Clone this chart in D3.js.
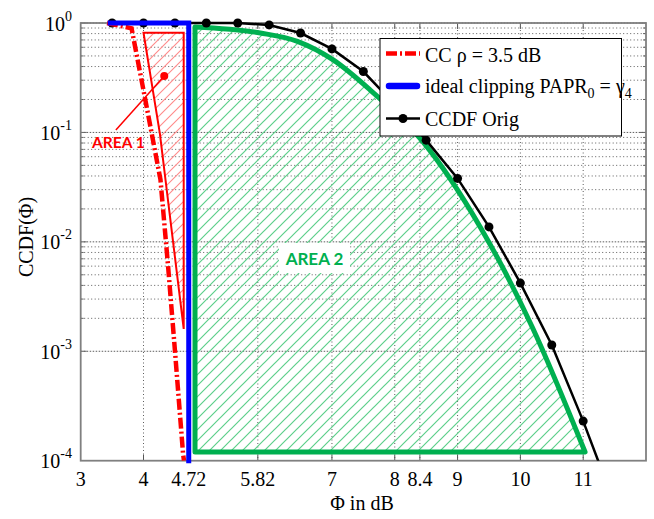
<!DOCTYPE html>
<html>
<head>
<meta charset="utf-8">
<script src="https://cdn.jsdelivr.net/npm/d3@7"></script>
<style>
  body { margin: 0; background: #fff; }
</style>
</head>
<body>
<div id="chart"></div>
<script>

// x ticks (dB) and y decades
var xTicks = [ 3, 4, 4.72, 5.82, 7, 8, 8.4, 9, 10, 11 ];
var yExps = [ 0, -1, -2, -3, -4 ];

// CCDF Orig
var origX = [ 3.5, 4, 4.5, 5, 5.5, 6, 6.5, 7, 7.5, 8, 8.5, 9, 9.5, 10, 10.5, 11, 11.5 ];
var origY = [ 1, 1, 1, 1, 1, 0.96, 0.81, 0.58, 0.36, 0.18, 0.085, 0.038, 0.0137, 0.0042, 0.00114, 0.00023, 0.00004 ];

// CC rho = 3.5 dB
var ccX = [ 3.42, 3.81, 4.03, 4.27, 4.39, 4.50, 4.63, 4.645 ];
var ccY = [ 1, 0.894, 0.197, 0.037, 0.0061, 0.00102, 0.000115, 0.0001 ];

// ideal clipping PAPR0 = gamma4
var clipX = [ 3.47, 4.72, 4.72 ];
var clipY = [ 1, 1, 0.0001 ];

// AREA 1 / AREA 2 outlines
var area1X = [ 4.0, 4.26, 4.64, 4.64 ];
var area1Y = [ 0.815, 0.098, 0.0016, 0.815 ];
var area2X = [ 4.82, 4.82, 5.86, 6.45, 7.02, 7.61, 8.45, 9.36, 10.19, 11.03 ];
var area2Y = [ 0.00012, 0.92, 0.81, 0.68, 0.46, 0.244, 0.082, 0.0137, 0.00166, 0.00012 ];

var width = 654,
    height = 519;

var serif = '"Liberation Serif", "Times New Roman", Times, serif';

var x = d3.scaleLinear().domain([ 3, 12 ]).range([ 80.7, 646 ]);
var y = d3.scaleLog().domain([ 1e-4, 1 ]).range([ 460.7, 23 ]);

var svg = d3.select('#chart').append('svg')
    .attr('width', width)
    .attr('height', height)
    .style('font-family', serif);

var defs = svg.append('defs');

defs.append('clipPath').attr('id', 'plotClip')
    .append('rect')
    .attr('x', x(3)).attr('y', y(1) - 12)
    .attr('width', x(12) - x(3)).attr('height', y(1e-4) - y(1) + 12);

function hatch ( id, color, w ) {

    var p = defs.append('pattern')
        .attr('id', id)
        .attr('patternUnits', 'userSpaceOnUse')
        .attr('width', 11)
        .attr('height', 11);

    p.append('path')
        .attr('d', 'M-1,12 L12,-1 M-3,3 L3,-3 M8,14 L14,8')
        .style('stroke', color)
        .style('stroke-width', w);

}

hatch( 'hatchGreen', '#5ccf8a', 1.2 );
hatch( 'hatchRed', '#ff8a8a', 1.1 );

/* grid */

var grid = svg.append('g');

yExps.forEach( function ( e ) {

    var base = Math.pow( 10, e );
    var mult = e === -4 ? [ 1 ] : [ 1, 2, 3, 4, 5, 6, 7, 8, 9 ];

    mult.forEach( function ( m ) {

        var v = base * m;
        if ( v > 1 || v <= 1e-4 ) return;

        grid.append('line')
            .attr('x1', x(3)).attr('x2', x(12))
            .attr('y1', y(v)).attr('y2', y(v))
            .style('stroke', '#333')
            .style('stroke-width', 0.8)
            .style('stroke-dasharray', m === 1 ? '1.5,1.5' : '1,2.5');

        // small ticks left / right
        grid.append('line')
            .attr('x1', x(3)).attr('x2', x(3) + ( m === 1 ? 6 : 3 ))
            .attr('y1', y(v)).attr('y2', y(v))
            .style('stroke', '#666');
        grid.append('line')
            .attr('x1', x(12)).attr('x2', x(12) - ( m === 1 ? 6 : 3 ))
            .attr('y1', y(v)).attr('y2', y(v))
            .style('stroke', '#666');

    });

});

xTicks.forEach( function ( t ) {

    if ( t === 3 ) return;

    grid.append('line')
        .attr('x1', x(t)).attr('x2', x(t))
        .attr('y1', y(1)).attr('y2', y(1e-4))
        .style('stroke', '#333')
        .style('stroke-width', 0.8)
        .style('stroke-dasharray', '1,2.5');

    grid.append('line')
        .attr('x1', x(t)).attr('x2', x(t))
        .attr('y1', y(1e-4)).attr('y2', y(1e-4) - 6)
        .style('stroke', '#555');
    grid.append('line')
        .attr('x1', x(t)).attr('x2', x(t))
        .attr('y1', y(1)).attr('y2', y(1) + 6)
        .style('stroke', '#555');

});

/* axes box */

svg.append('rect')
    .attr('x', x(3)).attr('y', y(1))
    .attr('width', x(12) - x(3)).attr('height', y(1e-4) - y(1))
    .style('fill', 'none')
    .style('stroke', '#808080')
    .style('stroke-width', 1.8);

/* areas */

var plot = svg.append('g').attr('clip-path', 'url(#plotClip)');

var polyLine = d3.line()
    .x( function ( d ) { return x( d[0] ); } )
    .y( function ( d ) { return y( d[1] ); } );

var area1 = area1X.map( function ( v, i ) { return [ v, area1Y[i] ]; } );
var area2 = area2X.map( function ( v, i ) { return [ v, area2Y[i] ]; } );

plot.append('path')
    .attr('d', polyLine( area1 ) + 'Z')
    .style('fill', 'url(#hatchRed)')
    .style('stroke', '#ff0000')
    .style('stroke-width', 2)
    .style('stroke-linejoin', 'miter');

// upper edge of area 2 smoothed
var upper = area2.slice( 1 );
var smooth = d3.line()
    .x( function ( d ) { return x( d[0] ); } )
    .y( function ( d ) { return y( d[1] ); } )
    .curve( d3.curveMonotoneX );

var upperPath = smooth( upper );
var area2Path = 'M' + x( area2[0][0] ) + ',' + y( area2[0][1] ) + 'L' + upperPath.slice( 1 ) + 'Z';

plot.append('path')
    .attr('d', area2Path)
    .style('fill', 'url(#hatchGreen)')
    .style('stroke', '#00b050')
    .style('stroke-width', 5)
    .style('stroke-linejoin', 'round');

/* curves */

var orig = origX.map( function ( v, i ) { return [ v, origY[i] ]; } );

plot.append('path')
    .attr('d', polyLine( orig ))
    .style('fill', 'none')
    .style('stroke', '#000')
    .style('stroke-width', 2.5);

plot.selectAll('.marker')
    .data( orig )
    .enter().append('circle')
    .attr('class', 'marker')
    .attr('cx', function ( d ) { return x( d[0] ); })
    .attr('cy', function ( d ) { return y( d[1] ); })
    .attr('r', 4.5)
    .style('fill', '#000');

var cc = ccX.map( function ( v, i ) { return [ v, ccY[i] ]; } );

plot.append('path')
    .attr('d', polyLine( cc ))
    .style('fill', 'none')
    .style('stroke', '#ff0000')
    .style('stroke-width', 4.5)
    .style('stroke-dasharray', '11,3,2,3');

var clip = clipX.map( function ( v, i ) { return [ v, clipY[i] ]; } );

svg.append('path')
    .attr('d', polyLine( clip ))
    .style('fill', 'none')
    .style('stroke', '#0000ff')
    .style('stroke-width', 5)
    .style('stroke-linecap', 'square');

/* annotations */

svg.append('line')
    .attr('x1', x(4.33)).attr('y1', y(0.328))
    .attr('x2', x(3.56)).attr('y2', y(0.105))
    .style('stroke', '#ff0000')
    .style('stroke-width', 1.5);

svg.append('circle')
    .attr('cx', x(4.33)).attr('cy', y(0.328))
    .attr('r', 4)
    .style('fill', '#ff0000');

svg.append('text')
    .attr('x', x(3.6)).attr('y', 147.5)
    .attr('text-anchor', 'middle')
    .style('font-family', 'Lato, sans-serif')
    .style('font-weight', 'bold')
    .style('font-size', '15.5px')
    .style('fill', '#ff0000')
    .text('AREA 1');

svg.append('rect')
    .attr('x', 279).attr('y', 243)
    .attr('width', 71).attr('height', 30)
    .style('fill', '#fff');

svg.append('text')
    .attr('x', 314.5).attr('y', 265)
    .attr('text-anchor', 'middle')
    .style('font-family', 'Lato, sans-serif')
    .style('font-weight', 'bold')
    .style('font-size', '17px')
    .style('fill', '#00b050')
    .text('AREA 2');

/* tick labels */

xTicks.forEach( function ( t ) {

    svg.append('text')
        .attr('x', x(t)).attr('y', 486)
        .attr('text-anchor', 'middle')
        .style('font-size', '20px')
        .text( t );

});

yExps.forEach( function ( e ) {

    var tx = svg.append('text')
        .attr('x', 72).attr('y', y( Math.pow( 10, e ) ) + 7.5)
        .attr('text-anchor', 'end')
        .style('font-size', '20px');

    tx.append('tspan').text('10');
    tx.append('tspan')
        .attr('dy', -10)
        .style('font-size', '14px')
        .text( e );

});

svg.append('text')
    .attr('x', 362).attr('y', 510)
    .attr('text-anchor', 'middle')
    .style('font-size', '20px')
    .text('\u03A6 in dB');

svg.append('text')
    .attr('transform', 'translate(33,237) rotate(-90)')
    .attr('text-anchor', 'middle')
    .style('font-size', '20px')
    .text('CCDF(\u03A6)');

/* legend */

var legend = svg.append('g');

legend.append('rect')
    .attr('x', 380).attr('y', 38.5)
    .attr('width', 241.5).attr('height', 97.5)
    .style('fill', '#fff')
    .style('stroke', '#000')
    .style('stroke-width', 1);

legend.append('line')
    .attr('x1', 386).attr('x2', 420)
    .attr('y1', 53.5).attr('y2', 53.5)
    .style('stroke', '#ff0000')
    .style('stroke-width', 4.5)
    .style('stroke-dasharray', '11,3,2,3');

legend.append('line')
    .attr('x1', 389).attr('x2', 417)
    .attr('y1', 86).attr('y2', 86)
    .style('stroke', '#0000ff')
    .style('stroke-width', 6.5)
    .style('stroke-linecap', 'round');

legend.append('line')
    .attr('x1', 386).attr('x2', 420)
    .attr('y1', 118.5).attr('y2', 118.5)
    .style('stroke', '#000')
    .style('stroke-width', 2.5);

legend.append('circle')
    .attr('cx', 403).attr('cy', 118.5)
    .attr('r', 4.5)
    .style('fill', '#000');

legend.append('text')
    .attr('x', 425).attr('y', 61.5)
    .style('font-size', '20px')
    .text('CC \u03C1 = 3.5 dB');

var t2 = legend.append('text')
    .attr('x', 425).attr('y', 93)
    .style('font-size', '20px');

t2.append('tspan').text('ideal clipping PAPR');
t2.append('tspan').attr('dy', 5).style('font-size', '14px').text('0');
t2.append('tspan').attr('dy', -5).text(' = \u03B3');
t2.append('tspan').attr('dy', 5).style('font-size', '14px').text('4');

legend.append('text')
    .attr('x', 425).attr('y', 125.5)
    .style('font-size', '20px')
    .text('CCDF Orig');

</script>
</body>
</html>
